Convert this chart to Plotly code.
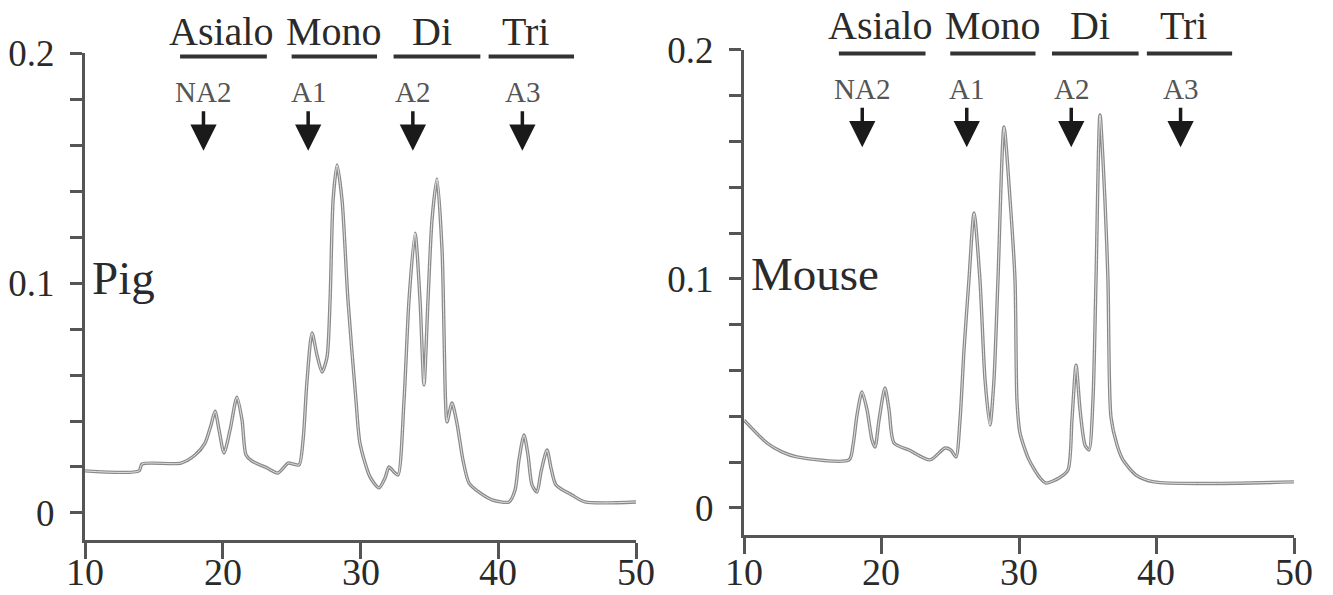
import plotly.graph_objects as go

# ---------------- data ----------------
pig_x = [10.0, 13.92, 14.14, 16.97, 17.99, 18.71, 19.15, 19.44, 19.73, 20.09, 20.53, 21.03,
         21.40, 21.69, 22.12, 23.21, 24.01, 24.74, 25.10, 25.54, 25.83, 26.12, 26.48, 26.84,
         27.21, 27.57, 27.79, 28.01, 28.30, 28.66, 29.09, 29.67, 29.96, 30.69, 31.34, 31.78,
         32.07, 32.43, 32.72, 33.16, 33.52, 33.96, 34.32, 34.61, 34.90, 35.19, 35.55, 35.92,
         36.06, 36.17, 36.28, 36.64, 37.00, 37.44, 37.88, 38.68, 39.55, 40.78, 41.22, 41.50,
         41.87, 42.16, 42.45, 42.81, 43.10, 43.54, 43.83, 44.19, 45.35, 46.30, 50.0]
pig_y = [0.0183, 0.0183, 0.0213, 0.0217, 0.0252, 0.0304, 0.0383, 0.0443, 0.0361, 0.0261, 0.0361, 0.0504,
         0.0404, 0.0252, 0.0226, 0.0196, 0.0174, 0.0217, 0.0213, 0.0209, 0.0317, 0.0578, 0.0783, 0.0687,
         0.0613, 0.0678, 0.0926, 0.1360, 0.1513, 0.1360, 0.0926, 0.0491, 0.0304, 0.0157, 0.0109, 0.0152,
         0.0200, 0.0178, 0.0165, 0.0491, 0.0926, 0.1217, 0.0926, 0.0557, 0.0926, 0.1274, 0.1452, 0.1143,
         0.0796, 0.0491, 0.0396, 0.0478, 0.0391, 0.0230, 0.0130, 0.0087, 0.0057, 0.0048, 0.0100, 0.0230,
         0.0339, 0.0252, 0.0122, 0.0091, 0.0178, 0.0274, 0.0196, 0.0122, 0.0078, 0.0048, 0.0048]

mouse_x = [10.0, 11.67, 12.76, 13.85, 17.64, 17.93, 18.22, 18.58, 18.95, 19.31, 19.53, 19.82,
           20.25, 20.55, 20.91, 22.00, 23.53, 24.62, 25.05, 25.42, 25.71, 26.00, 26.36, 26.73,
           27.16, 27.53, 27.89, 28.18, 28.47, 28.91, 29.35, 29.71, 29.85, 30.07, 30.73, 31.53,
           31.96, 32.91, 33.56, 33.85, 34.15, 34.44, 34.80, 35.09, 35.38, 35.60, 35.89, 36.25,
           36.47, 36.69, 37.13, 37.56, 38.51, 39.82, 50.0]
mouse_y = [0.0384, 0.0284, 0.0245, 0.0223, 0.0210, 0.0275, 0.0406, 0.0507, 0.0428, 0.0297, 0.0266, 0.0384,
           0.0524, 0.0428, 0.0284, 0.0253, 0.0210, 0.0262, 0.0253, 0.0223, 0.0384, 0.0690, 0.0996, 0.1288,
           0.0996, 0.0559, 0.0362, 0.0559, 0.0996, 0.1664, 0.1345, 0.0996, 0.0472, 0.0328, 0.0210, 0.0131,
           0.0109, 0.0131, 0.0166, 0.0384, 0.0624, 0.0428, 0.0275, 0.0253, 0.0472, 0.0996, 0.1716, 0.1345,
           0.0996, 0.0397, 0.0275, 0.0210, 0.0144, 0.0114, 0.0114]

group_labels = ["Asialo", "Mono", "Di", "Tri"]
group_label_x = [19.9, 28.1, 35.2, 42.0]
group_start = [16.9, 25.0, 32.4, 39.3]
group_end = [23.2, 31.2, 38.7, 45.5]

std_labels = ["NA2", "A1", "A2", "A3"]
std_x = [18.6, 26.2, 33.8, 41.75]

sample_names = ["Pig", "Mouse"]

x_ticks = [10, 20, 30, 40, 50]
x_tick_text = ["10", "20", "30", "40", "50"]
y_ticks = [0, 0.1, 0.2]
y_tick_text = ["0", "0.1", "0.2"]

# ---------------- styling ----------------
FONT = "Liberation Serif"
AX_COL = "#555555"
TXT_COL = "#2a2a2a"
X_RANGE = [10, 50]

panels = [
    dict(x=pig_x, y=pig_y, xa="x", ya="y",
         xdom=[0.06377, 0.47712], ydom=[0.09244, 0.91092], yrng=[-0.01174, 0.2],
         group_y=0.2093),
    dict(x=mouse_x, y=mouse_y, xa="x2", ya="y2",
         xdom=[0.55814, 0.97074], ydom=[0.10084, 0.91597], yrng=[-0.01179, 0.2],
         group_y=0.2105),
]


def px_x(v, p):
    d = p["xdom"]
    return d[0] + (v - X_RANGE[0]) / (X_RANGE[1] - X_RANGE[0]) * (d[1] - d[0])


def px_y(v, p):
    d, r = p["ydom"], p["yrng"]
    return d[0] + (v - r[0]) / (r[1] - r[0]) * (d[1] - d[0])


fig = go.Figure()
for p in panels:
    fig.add_trace(go.Scatter(x=p["x"], y=p["y"], xaxis=p["xa"], yaxis=p["ya"], mode="lines",
                             line=dict(color="#8a8a8a", width=3.4, shape="spline", smoothing=0.7),
                             showlegend=False, hoverinfo="skip"))
    fig.add_trace(go.Scatter(x=p["x"], y=p["y"], xaxis=p["xa"], yaxis=p["ya"], mode="lines",
                             line=dict(color="#e2e2e2", width=1.0, shape="spline", smoothing=0.7),
                             showlegend=False, hoverinfo="skip"))


def xaxis_style(domain, anchor):
    return dict(domain=domain, anchor=anchor, range=X_RANGE, showline=True, linecolor=AX_COL,
                linewidth=3, ticks="outside", ticklen=16, tickwidth=3, tickcolor=AX_COL,
                tickvals=x_ticks, showticklabels=False, showgrid=False, zeroline=False,
                automargin=False)


def yaxis_style(domain, anchor, rng):
    return dict(domain=domain, anchor=anchor, range=rng, showline=True, linecolor=AX_COL,
                linewidth=3, ticks="outside", ticklen=12, tickwidth=3, tickcolor=AX_COL,
                tickvals=y_ticks, ticktext=y_tick_text, showgrid=False, zeroline=False,
                automargin=False, ticklabelstandoff=8,
                tickfont=dict(family=FONT, size=37, color=TXT_COL),
                minor=dict(dtick=0.02, tick0=0, ticks="outside", ticklen=12, tickwidth=3,
                           tickcolor=AX_COL, showgrid=False))


fig.update_layout(
    width=1333, height=595,
    margin=dict(l=0, r=0, t=0, b=0),
    paper_bgcolor="white", plot_bgcolor="white",
    font=dict(family=FONT, color=TXT_COL),
    xaxis=xaxis_style(panels[0]["xdom"], "y"),
    yaxis=yaxis_style(panels[0]["ydom"], "x", panels[0]["yrng"]),
    xaxis2=xaxis_style(panels[1]["xdom"], "y2"),
    yaxis2=yaxis_style(panels[1]["ydom"], "x2", panels[1]["yrng"]),
)

annotations = []
shapes = []
for i, p in enumerate(panels):
    # x tick labels
    for tv, tt in zip(x_ticks, x_tick_text):
        annotations.append(dict(x=px_x(tv, p), y=1 - 572 / 595, xref="paper", yref="paper",
                                text=tt, showarrow=False, xanchor="center", yanchor="middle",
                                borderpad=0, font=dict(family=FONT, size=38, color=TXT_COL)))
    # glycan class labels and bars
    for lab, lx, s, e in zip(group_labels, group_label_x, group_start, group_end):
        annotations.append(dict(x=px_x(lx, p), y=px_y(p["group_y"], p), xref="paper", yref="paper",
                                text=lab, showarrow=False, xanchor="center", yanchor="middle",
                                font=dict(family=FONT, size=40, color=TXT_COL)))
        shapes.append(dict(type="line", xref=p["xa"], yref=p["ya"], x0=s, x1=e,
                           y0=0.1985, y1=0.1985, line=dict(color="#333333", width=4)))
    # standards with arrows
    for lab, sx in zip(std_labels, std_x):
        annotations.append(dict(x=px_x(sx, p), y=px_y(0.183, p), xref="paper", yref="paper",
                                text=lab, showarrow=False, xanchor="center", yanchor="middle",
                                font=dict(family=FONT, size=29, color="#555555")))
        annotations.append(dict(x=px_x(sx, p), y=px_y(0.1575, p), xref="paper", yref="paper",
                                text="", showarrow=True, ax=0, ay=-41, arrowhead=2,
                                arrowsize=1.5, arrowwidth=3.5, arrowcolor="#1a1a1a"))
    annotations.append(dict(x=px_x(10.35, p), y=px_y(0.102, p), xref="paper", yref="paper",
                            text=sample_names[i], showarrow=False, xanchor="left",
                            yanchor="middle", font=dict(family=FONT, size=47, color=TXT_COL)))

fig.update_layout(annotations=annotations, shapes=shapes)
fig.write_html("out.html", config={"displayModeBar": False},
               post_script="document.body.style.margin='0';")
